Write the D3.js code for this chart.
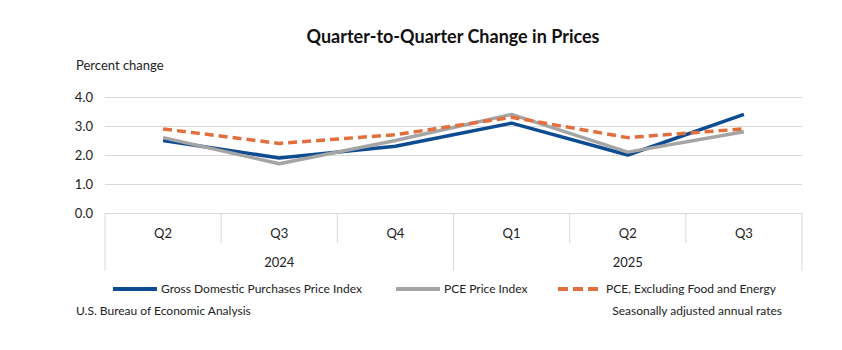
<!DOCTYPE html>
<html>
<head>
<meta charset="utf-8">
<script src="https://cdn.jsdelivr.net/npm/d3@7"></script>
<style>
  body { margin: 0; background: #fff; }
  svg { font-family: Lato, "Open Sans", sans-serif; }
</style>
</head>
<body>
<script>
// chart data
const quarters = ["Q2", "Q3", "Q4", "Q1", "Q2", "Q3"];
const years = ["2024", "2025"];
const yearSpans = [[0, 2], [3, 5]];
const gdpPurchases = [2.5, 1.9, 2.3, 3.1, 2.0, 3.4];
const pceIndex = [2.6, 1.7, 2.5, 3.4, 2.1, 2.8];
const pceCore = [2.9, 2.4, 2.7, 3.3, 2.6, 2.9];
const yTicks = [0, 1, 2, 3, 4];
const seriesNames = ["Gross Domestic Purchases Price Index", "PCE Price Index", "PCE, Excluding Food and Energy"];

window.onload = function () {
    const w = 842, h = 350;
    const left = 105, right = 802, top = 97, bottom = 213;

    const svg = d3.select("body").append("svg")
        .attr("width", w)
        .attr("height", h);

    const x = d3.scaleBand()
        .domain(d3.range(quarters.length))
        .range([left, right]);

    const y = d3.scaleLinear()
        .domain([0, 4])
        .range([bottom, top]);

    // title
    svg.append("text")
        .attr("x", 453)
        .attr("y", 43)
        .attr("text-anchor", "middle")
        .attr("font-size", "18px")
        .attr("font-weight", "bold")
        .attr("fill", "#111")
        .text("Quarter-to-Quarter Change in Prices");

    svg.append("text")
        .attr("x", 76)
        .attr("y", 70)
        .attr("font-size", "13px")
        .attr("fill", "#222")
        .text("Percent change");

    // gridlines + y labels
    const yAxis = d3.axisLeft(y)
        .tickValues(yTicks)
        .tickSize(-(right - left))
        .tickPadding(12)
        .tickFormat(d3.format(".1f"));

    const gy = svg.append("g")
        .attr("transform", `translate(${left},0)`)
        .call(yAxis);
    gy.select(".domain").remove();
    gy.selectAll(".tick line").attr("stroke", "#d9d9d9").attr("stroke-width", 1);
    gy.selectAll(".tick text")
        .attr("font-size", "13px")
        .attr("font-family", "Lato, sans-serif")
        .attr("fill", "#222");

    // category axis: quarter separators and year separators
    const bounds = d3.range(quarters.length + 1).map(i =>
        i < quarters.length ? x(i) : x(quarters.length - 1) + x.bandwidth());
    const yearBounds = [0, 3, 6];

    svg.selectAll(".qsep")
        .data(bounds)
        .enter().append("line")
        .attr("x1", d => d).attr("x2", d => d)
        .attr("y1", bottom)
        .attr("y2", (d, i) => yearBounds.includes(i) ? 271 : 243)
        .attr("stroke", "#d9d9d9")
        .attr("stroke-width", 1);

    svg.selectAll(".qlabel")
        .data(quarters)
        .enter().append("text")
        .attr("x", (d, i) => x(i) + x.bandwidth() / 2)
        .attr("y", 238)
        .attr("text-anchor", "middle")
        .attr("font-size", "13px")
        .attr("fill", "#222")
        .text(d => d);

    svg.selectAll(".ylabel")
        .data(years)
        .enter().append("text")
        .attr("x", (d, i) => (x(yearSpans[i][0]) + x(yearSpans[i][1]) + x.bandwidth()) / 2)
        .attr("y", 267)
        .attr("text-anchor", "middle")
        .attr("font-size", "13px")
        .attr("fill", "#222")
        .text(d => d);

    // lines
    const line = d3.line()
        .x((d, i) => x(i) + x.bandwidth() / 2)
        .y(d => y(d));

    const series = [
        {values: gdpPurchases, color: "#0e4c92", dash: null},
        {values: pceIndex, color: "#a5a5a5", dash: null},
        {values: pceCore, color: "#e2703f", dash: "9,5"}
    ];

    svg.selectAll(".series")
        .data(series)
        .enter().append("path")
        .attr("fill", "none")
        .attr("stroke", d => d.color)
        .attr("stroke-width", 3.5)
        .attr("stroke-dasharray", d => d.dash)
        .attr("stroke-linejoin", "round")
        .attr("d", d => line(d.values));

    // legend
    const legendX = [113, 396, 558];
    const legend = svg.selectAll(".legend")
        .data(series)
        .enter().append("g")
        .attr("transform", (d, i) => `translate(${legendX[i]},289)`);

    legend.append("line")
        .attr("x1", 0).attr("x2", 44)
        .attr("stroke", d => d.color)
        .attr("stroke-width", 4)
        .attr("stroke-dasharray", d => d.dash ? "10,5" : null);

    legend.append("text")
        .attr("x", (d, i) => i === 2 ? 48 : 48)
        .attr("y", 4)
        .attr("font-size", "12px")
        .attr("fill", "#222")
        .text((d, i) => seriesNames[i]);

    // footer
    svg.append("text")
        .attr("x", 76)
        .attr("y", 315)
        .attr("font-size", "12px")
        .attr("fill", "#222")
        .text("U.S. Bureau of Economic Analysis");

    svg.append("text")
        .attr("x", 782)
        .attr("y", 315)
        .attr("text-anchor", "end")
        .attr("font-size", "12px")
        .attr("fill", "#222")
        .text("Seasonally adjusted annual rates");
}
</script>
</body>
</html>
